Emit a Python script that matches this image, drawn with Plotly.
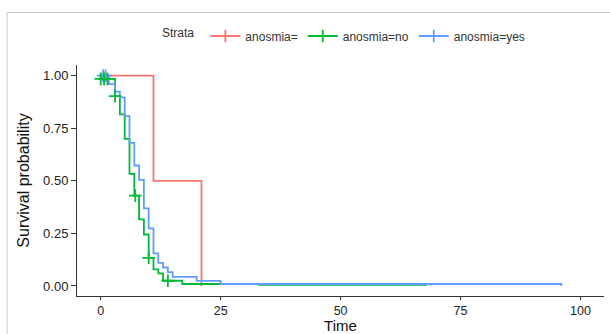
import plotly.graph_objects as go

# ---- data ----
strata = ["anosmia=", "anosmia=no", "anosmia=yes"]
colors = ["#F8766D", "#00BA38", "#619CFF"]

red_time = [0, 11, 21]
red_surv = [1.0, 0.5, 0.0]
red_cens_time = []
red_cens_surv = []

green_time = [0, 0, 3, 4, 5, 6, 7, 8, 9, 10, 11, 12, 13, 17, 33, 68]
green_surv = [1.0, 0.985, 0.903, 0.816, 0.70, 0.533, 0.43, 0.317, 0.245, 0.134,
              0.079, 0.06, 0.025, 0.0095, 0.005, 0.005]
green_cens_time = [0, 0.7, 1.4, 3, 7.2, 10, 14]
green_cens_surv = [0.985, 0.985, 0.985, 0.903, 0.43, 0.134, 0.025]

blue_time = [0, 1.7, 3, 4, 5, 6, 7, 8, 9, 10, 11, 12, 13, 14, 15, 20, 25, 96]
blue_surv = [1.0, 0.96, 0.924, 0.897, 0.808, 0.681, 0.573, 0.505, 0.369, 0.274,
             0.155, 0.11, 0.088, 0.066, 0.043, 0.024, 0.0095, 0.0]
blue_cens_time = [0.5, 1.0]
blue_cens_surv = [1.0, 1.0]

x_ticks = [0, 25, 50, 75, 100]
y_ticks = [0.0, 0.25, 0.5, 0.75, 1.0]
y_ticklabels = ["0.00", "0.25", "0.50", "0.75", "1.00"]

series = [
    (red_time, red_surv, red_cens_time, red_cens_surv),
    (green_time, green_surv, green_cens_time, green_cens_surv),
    (blue_time, blue_surv, blue_cens_time, blue_cens_surv),
]

fig = go.Figure()
FONT = "Arial, Liberation Sans, sans-serif"

for name, col, (t, s, ct, cs) in zip(strata, colors, series):
    fig.add_trace(go.Scatter(x=t, y=s, mode="lines", line=dict(color=col, width=1.8, shape="hv"),
                             showlegend=False, hoverinfo="skip"))
# censor marks (blue first so green sits on top, as in the reference)
for idx in [2, 0, 1]:
    t, s, ct, cs = series[idx]
    col = colors[idx]
    if ct:
        fig.add_trace(go.Scatter(x=ct, y=cs, mode="markers",
                                 marker=dict(symbol="cross-thin", size=9,
                                             line=dict(color=col, width=1.8)),
                                 showlegend=False, hoverinfo="skip"))
# legend entries
for name, col in zip(strata, colors):
    fig.add_trace(go.Scatter(x=[None], y=[None], mode="lines+markers", name=name,
                             line=dict(color=col, width=1.8),
                             marker=dict(symbol="cross-thin", size=9,
                                         line=dict(color=col, width=1.8))))

W0, W1, H0, H1 = 77, 604, 65, 296
pw, ph = W1 - W0, H1 - H0

def px(x):
    return (x - W0) / pw

def py(y):
    return (H1 - y) / ph

fig.add_shape(type="rect", xref="paper", yref="paper",
              x0=px(7), x1=px(640), y0=py(350), y1=py(12.5),
              line=dict(color="#c8c8c8", width=1), fillcolor="rgba(0,0,0,0)", layer="below")

fig.update_layout(
    width=610, height=334,
    margin=dict(l=W0, r=610 - W1, t=H0, b=334 - H1),
    paper_bgcolor="white", plot_bgcolor="white",
    font=dict(family=FONT, color="#222222"),
    legend=dict(orientation="h", x=px(345), xanchor="center", y=py(36), yanchor="middle",
                title=dict(text="Strata ", font=dict(size=12, color="#333333"), side="left"),
                font=dict(size=12, color="#333333"), itemwidth=30, tracegroupgap=0,
                bgcolor="rgba(0,0,0,0)"),
    xaxis=dict(range=[-4.94, 104.9], tickvals=x_ticks, ticks="outside", ticklen=3,
               tickcolor="#333333", showline=True, linecolor="#333333", linewidth=1,
               showgrid=False, zeroline=False, tickfont=dict(size=12.5, color="#222222"),
               automargin=False,
               title=dict(text="Time", font=dict(size=15, color="#111111"), standoff=6)),
    yaxis=dict(range=[-0.0476, 1.051], tickvals=y_ticks, ticktext=y_ticklabels,
               ticks="outside", ticklen=5, tickcolor="#333333", showline=True,
               linecolor="#333333", linewidth=1, showgrid=False, zeroline=False,
               tickfont=dict(size=13, color="#222222"), automargin=False,
               title=dict(text="Survival probability", font=dict(size=16, color="#111111"),
                          standoff=9)),
)

fig.write_html("out.html", config={"displayModeBar": False},
               post_script="document.body.style.margin='0';")
